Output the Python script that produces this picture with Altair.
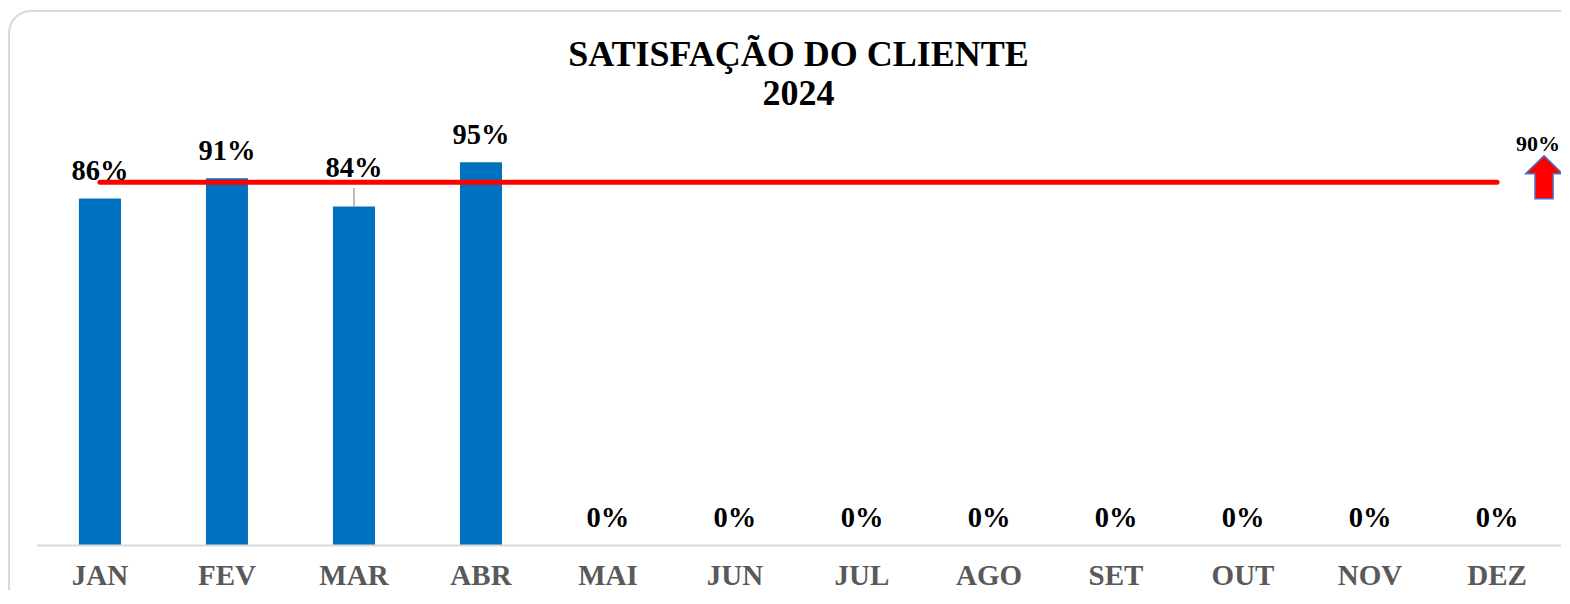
import altair as alt
import pandas as pd

# ---- data ----
meses = ["JAN", "FEV", "MAR", "ABR", "MAI", "JUN", "JUL", "AGO", "SET", "OUT", "NOV", "DEZ"]
satisfacao = [0.86, 0.91, 0.84, 0.95, 0.0, 0.0, 0.0, 0.0, 0.0, 0.0, 0.0, 0.0]
meta_valor = 0.90
titulo = ["SATISFAÇÃO DO CLIENTE", "2024"]

df = pd.DataFrame({"mes": meses, "valor": satisfacao})
df["meta"] = meta_valor

SERIF = "Liberation Serif"
ARROW = "M0,-1 L0.86,-0.16 L0.42,-0.16 L0.42,1 L-0.42,1 L-0.42,-0.16 L-0.86,-0.16 Z"

x_enc = alt.X(
    "mes:N",
    sort=meses,
    scale=alt.Scale(paddingInner=0.669, paddingOuter=0.334),
    axis=alt.Axis(
        title=None, labelAngle=0, labelFont=SERIF, labelFontSize=29,
        labelFontWeight="bold", labelColor="#595959", labelBaseline="alphabetic",
        labelPadding=39, ticks=False, tickSize=0, domainColor="#D9D9D9",
        domainWidth=2, grid=False, zindex=1,
    ),
)
y_scale = alt.Scale(domain=[0, 1], nice=False)

base = alt.Chart(df).encode(x=x_enc)

frame = alt.Chart(pd.DataFrame({"k": [0]})).mark_rect(
    fillOpacity=0, stroke="#D9D9D9", strokeWidth=2, cornerRadius=22
).encode(
    x=alt.value(-27.5), x2=alt.value(1620), y=alt.value(-131), y2=alt.value(477)
)

bars = base.mark_bar(color="#0070C0").encode(
    y=alt.Y("valor:Q", scale=y_scale, axis=None)
)

labels = base.transform_filter("datum.mes != 'MAR'").mark_text(
    font=SERIF, fontSize=28.5, fontWeight="bold", color="black",
    baseline="alphabetic", dy=-18,
).encode(
    y=alt.Y("valor:Q", scale=y_scale, axis=None),
    text=alt.Text("valor:Q", format=".0%"),
)

label_mar = base.transform_filter("datum.mes == 'MAR'").mark_text(
    font=SERIF, fontSize=28.5, fontWeight="bold", color="black",
    baseline="alphabetic", dy=-29,
).encode(
    y=alt.Y("valor:Q", scale=y_scale, axis=None),
    text=alt.Text("valor:Q", format=".0%"),
)

leader = base.transform_filter("datum.mes == 'MAR'").transform_calculate(
    topo="datum.valor + 0.046"
).mark_rule(color="#A6A6A6", strokeWidth=1.5).encode(
    y=alt.Y("valor:Q", scale=y_scale, axis=None), y2="topo:Q"
)

meta_line = base.mark_line(color="#FF0000", strokeWidth=5, strokeCap="round").encode(
    y=alt.Y("meta:Q", scale=y_scale, axis=None)
)

arrow = base.transform_filter("datum.mes == 'DEZ'").mark_point(
    shape=ARROW, size=1849, filled=True, fill="#FF0000", stroke="#4472C4",
    strokeWidth=1.5, opacity=1, xOffset=47, yOffset=-5,
).encode(y=alt.Y("meta:Q", scale=y_scale, axis=None))

arrow_label = base.transform_filter("datum.mes == 'DEZ'").mark_text(
    font=SERIF, fontSize=22, fontWeight="bold", color="black",
    baseline="alphabetic", dx=41, dy=-31,
).encode(
    y=alt.Y("meta:Q", scale=y_scale, axis=None),
    text=alt.Text("meta:Q", format=".0%"),
)

chart = alt.layer(
    frame, bars, leader, meta_line, labels, label_mar, arrow, arrow_label
).properties(
    width=1524,
    height=403,
    padding={"left": 28.5, "top": 134, "right": 0, "bottom": 45},
    autosize=alt.AutoSizeParams(type="none"),
    title=alt.TitleParams(
        text=titulo, font=SERIF, fontSize=36, fontWeight="bold", color="black",
        anchor="middle", frame="group", baseline="alphabetic", lineHeight=39,
        offset=-131,
    ),
).configure_view(stroke=None)

chart.save("out.html", embed_options={"renderer": "svg", "actions": False})
